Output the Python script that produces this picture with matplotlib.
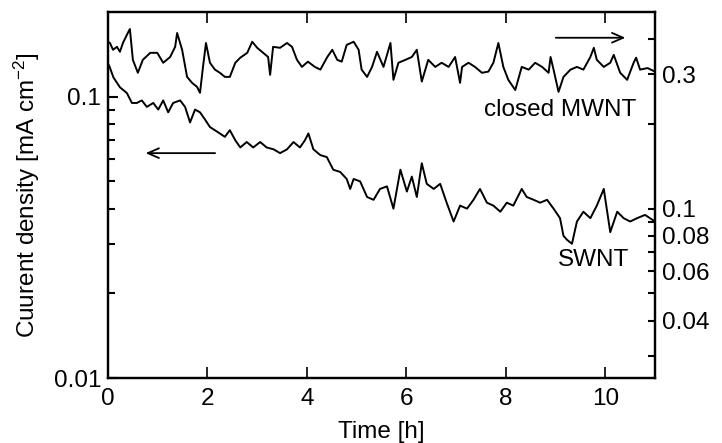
import matplotlib
matplotlib.use("Agg")
import matplotlib.pyplot as plt
from matplotlib.ticker import NullFormatter

plt.rcParams["font.family"] = ["Liberation Sans", "DejaVu Sans"]
plt.rcParams["mathtext.default"] = "regular"

# SWNT current density (left axis), mA cm^-2
swnt_t = [0.00, 0.03, 0.11, 0.24, 0.38, 0.48, 0.58, 0.68, 0.78, 0.91,
          1.01, 1.11, 1.21, 1.31, 1.45, 1.55, 1.65, 1.75, 1.85, 1.95,
          2.05, 2.15, 2.25, 2.35, 2.45, 2.56, 2.66, 2.79, 2.92, 3.06,
          3.19, 3.33, 3.46, 3.60, 3.73, 3.86, 3.96, 4.03, 4.13, 4.27,
          4.40, 4.53, 4.67, 4.80, 4.87, 4.94, 5.07, 5.21, 5.34, 5.47,
          5.61, 5.74, 5.88, 6.01, 6.11, 6.21, 6.31, 6.41, 6.55, 6.68,
          6.81, 6.95, 7.08, 7.22, 7.35, 7.48, 7.62, 7.75, 7.89, 8.02,
          8.15, 8.32, 8.42, 8.56, 8.69, 8.83, 8.96, 9.09, 9.16, 9.23,
          9.33, 9.43, 9.56, 9.70, 9.83, 9.97, 10.10, 10.24, 10.37, 10.50,
          10.64, 10.80, 11.00]
swnt_j = [0.131, 0.128, 0.117, 0.108, 0.103, 0.095, 0.095, 0.097, 0.092, 0.095,
          0.090, 0.097, 0.088, 0.095, 0.097, 0.092, 0.081, 0.090, 0.088, 0.083,
          0.078, 0.076, 0.074, 0.072, 0.076, 0.070, 0.066, 0.069, 0.066, 0.069,
          0.066, 0.065, 0.063, 0.065, 0.069, 0.066, 0.070, 0.074, 0.065, 0.062,
          0.061, 0.055, 0.054, 0.051, 0.047, 0.051, 0.050, 0.044, 0.043, 0.047,
          0.048, 0.040, 0.055, 0.046, 0.052, 0.044, 0.058, 0.049, 0.047, 0.049,
          0.042, 0.036, 0.041, 0.040, 0.043, 0.047, 0.042, 0.041, 0.039, 0.042,
          0.041, 0.047, 0.044, 0.043, 0.042, 0.043, 0.040, 0.037, 0.032, 0.031,
          0.030, 0.036, 0.039, 0.037, 0.041, 0.047, 0.033, 0.039, 0.037, 0.036,
          0.037, 0.038, 0.036]

# closed MWNT current density (right axis), mA cm^-2
mwnt_t = [0.00, 0.04, 0.10, 0.18, 0.24, 0.30, 0.38, 0.44, 0.50, 0.60,
          0.70, 0.85, 0.99, 1.11, 1.25, 1.35, 1.39, 1.49, 1.59, 1.69,
          1.79, 1.85, 1.91, 1.97, 2.05, 2.15, 2.25, 2.35, 2.45, 2.56,
          2.66, 2.80, 2.90, 3.00, 3.12, 3.22, 3.26, 3.32, 3.46, 3.60,
          3.70, 3.80, 3.90, 4.02, 4.16, 4.27, 4.41, 4.51, 4.61, 4.70,
          4.80, 4.94, 5.04, 5.10, 5.21, 5.31, 5.41, 5.54, 5.64, 5.68,
          5.74, 5.84, 5.98, 6.11, 6.21, 6.31, 6.44, 6.58, 6.71, 6.85,
          6.98, 7.08, 7.12, 7.25, 7.38, 7.52, 7.65, 7.75, 7.85, 7.95,
          8.05, 8.19, 8.32, 8.46, 8.59, 8.73, 8.86, 8.90, 8.96, 9.06,
          9.16, 9.30, 9.43, 9.56, 9.70, 9.77, 9.83, 9.97, 10.10, 10.17,
          10.30, 10.44, 10.57, 10.62, 10.70, 10.85, 11.00]
mwnt_j = [0.392, 0.388, 0.367, 0.376, 0.361, 0.388, 0.415, 0.435, 0.338, 0.304,
          0.338, 0.358, 0.358, 0.330, 0.346, 0.376, 0.421, 0.367, 0.294, 0.280,
          0.271, 0.258, 0.319, 0.388, 0.330, 0.312, 0.304, 0.294, 0.294, 0.330,
          0.344, 0.358, 0.392, 0.373, 0.358, 0.346, 0.299, 0.376, 0.373, 0.388,
          0.376, 0.338, 0.319, 0.333, 0.319, 0.312, 0.346, 0.367, 0.338, 0.333,
          0.382, 0.392, 0.367, 0.312, 0.294, 0.319, 0.361, 0.319, 0.367, 0.388,
          0.287, 0.330, 0.338, 0.346, 0.367, 0.283, 0.338, 0.319, 0.330, 0.319,
          0.346, 0.280, 0.319, 0.330, 0.319, 0.304, 0.307, 0.330, 0.388, 0.319,
          0.287, 0.264, 0.319, 0.312, 0.330, 0.319, 0.304, 0.346, 0.312, 0.260,
          0.294, 0.312, 0.319, 0.312, 0.346, 0.373, 0.338, 0.319, 0.330, 0.352,
          0.304, 0.287, 0.330, 0.344, 0.312, 0.316, 0.307]

left_ticks = [0.01, 0.1]
left_minor = [0.02, 0.03, 0.04, 0.05, 0.06, 0.07, 0.08, 0.09]
right_ticks = [0.04, 0.06, 0.08, 0.1, 0.3]
right_minor = [0.03, 0.05, 0.07, 0.09, 0.2, 0.4]

fig = plt.figure(figsize=(7.22, 4.43), dpi=100)
ax = fig.add_axes([0.1496, 0.1467, 0.7576, 0.8262])
ax2 = ax.twinx()

ax.plot(swnt_t, swnt_j, color="black", lw=1.4)
ax2.plot(mwnt_t, mwnt_j, color="black", lw=1.4)

ax.set_xlim(0, 11)
ax.set_yscale("log")
ax.set_ylim(0.01, 0.2)
ax2.set_yscale("log")
ax2.set_ylim(0.025, 0.5)

ax.set_xticks([0, 2, 4, 6, 8, 10])
ax.set_yticks(left_ticks, labels=["0.01", "0.1"])
ax.set_yticks(left_minor, minor=True)
ax.yaxis.set_minor_formatter(NullFormatter())
ax2.set_yticks(right_ticks, labels=["0.04", "0.06", "0.08", "0.1", "0.3"])
ax2.set_yticks(right_minor, minor=True)
ax2.yaxis.set_minor_formatter(NullFormatter())

fs = 17.5
ax.tick_params(axis="x", which="major", direction="in", top=True, length=8, width=1.2,
               labelsize=fs, pad=7)
ax.tick_params(axis="y", which="major", direction="in", length=7, width=1.5,
               labelsize=fs, pad=5)
ax.tick_params(axis="y", which="minor", direction="in", length=5, width=1.5)
ax2.tick_params(axis="y", which="both", direction="in", length=5, width=1.5,
                labelsize=fs, pad=5)
for sp in ax.spines.values():
    sp.set_linewidth(1.6)
for sp in ax2.spines.values():
    sp.set_linewidth(1.6)

ax.set_xlabel("Time [h]", fontsize=fs, labelpad=8)
ax.set_ylabel(r"Cuurent density [mA cm$^{-2}$]", fontsize=fs, labelpad=8)

ax2.text(10.62, 0.2245, "closed MWNT", fontsize=fs, ha="right", va="center")
ax.text(9.76, 0.0262, "SWNT", fontsize=fs, ha="center", va="center")

ax.annotate("", xy=(0.70, 0.063), xytext=(2.21, 0.063),
            arrowprops=dict(arrowstyle="->,head_length=0.8,head_width=0.35",
                            color="black", lw=1.3))
ax2.annotate("", xy=(10.46, 0.405), xytext=(8.95, 0.405),
             arrowprops=dict(arrowstyle="->,head_length=0.8,head_width=0.35",
                             color="black", lw=1.3))

fig.savefig("out.png", dpi=100)
